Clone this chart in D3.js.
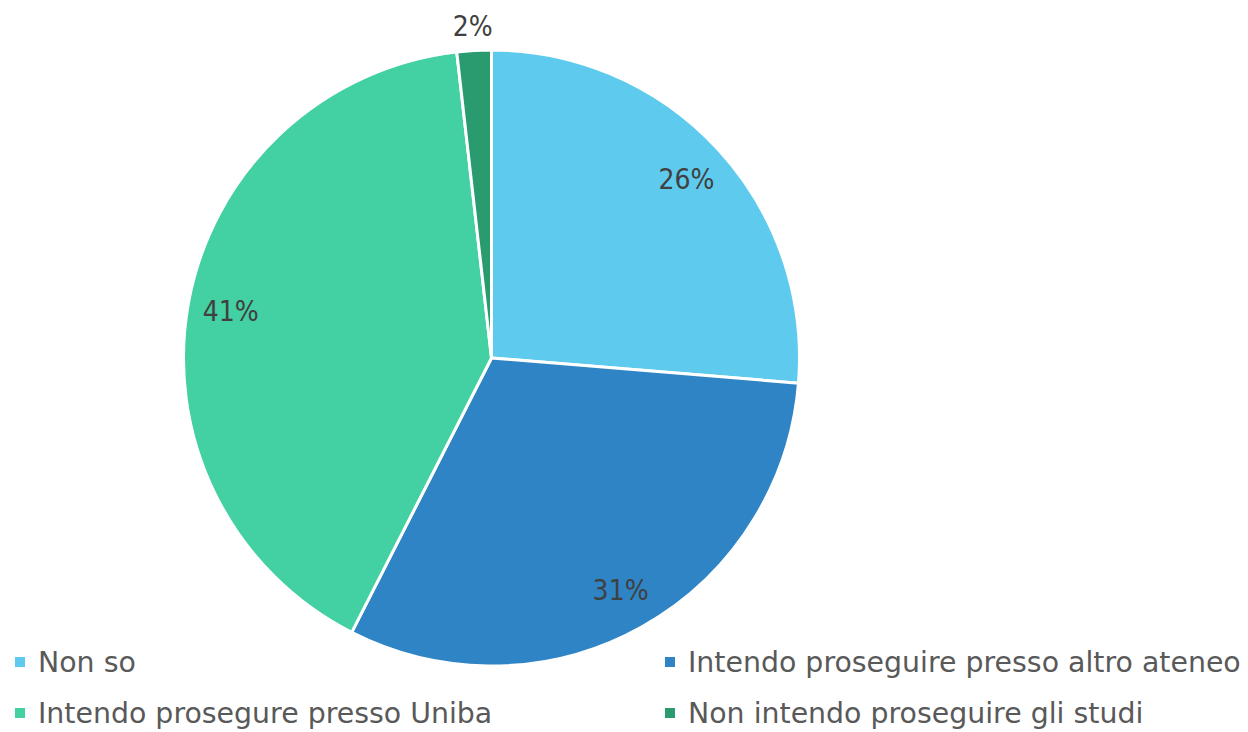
<!DOCTYPE html>
<html><head><meta charset="utf-8">
<script src="https://cdn.jsdelivr.net/npm/d3@7"></script>
<style>html,body{margin:0;padding:0;background:#fff;}svg{display:block;}</style>
</head><body>
<svg id="c" width="1248" height="732"></svg>
<script>
const categories = ["Non so","Intendo proseguire presso altro ateneo","Intendo prosegure presso Uniba","Non intendo proseguire gli studi"];
const values = [26.3, 31.2, 40.7, 1.8];
const colors = ["#5ECBEE","#2E84C4","#43D0A2","#2A9B6E"];

const svg = d3.select("#c");
const font = "'DejaVu Sans Condensed','DejaVu Sans',sans-serif";
const legFont = "'DejaVu Sans',sans-serif";
const cx = 491.5, cy = 358, R = 308;
const pie = d3.pie().sort(null).value(d=>d)(values);
const arc = d3.arc().innerRadius(0).outerRadius(R);
const g = svg.append("g").attr("transform",`translate(${cx},${cy})`);
g.selectAll("path").data(pie).join("path")
  .attr("d",arc).attr("fill",(d,i)=>colors[i])
  .attr("stroke","#fff").attr("stroke-width",3).attr("stroke-linejoin","round");
const lab = d3.arc().innerRadius(265).outerRadius(265);
const labOut = d3.arc().innerRadius(333).outerRadius(333);
g.selectAll("text").data(pie).join("text")
  .attr("transform",(d,i)=>{const p=(i===3?labOut:lab).centroid(d);return `translate(${p[0]},${p[1]})`;})
  .attr("text-anchor","middle").attr("dy","0.36em")
  .attr("font-family",font).attr("font-size",28).attr("fill","#404040")
  .text(d=>Math.round(d.value)+"%");

const legPos = [[15,662],[665,662],[15,713],[665,713]];
const lg = svg.append("g");
categories.forEach((c,i)=>{
  const [x,y]=legPos[i];
  lg.append("rect").attr("x",x).attr("y",y-5).attr("width",10).attr("height",10).attr("fill",colors[i]);
  lg.append("text").attr("x",x+23).attr("y",y).attr("dy","0.36em")
    .attr("font-family",legFont).attr("font-size",28.4).attr("fill","#595959").text(c);
});
</script>
</body></html>
